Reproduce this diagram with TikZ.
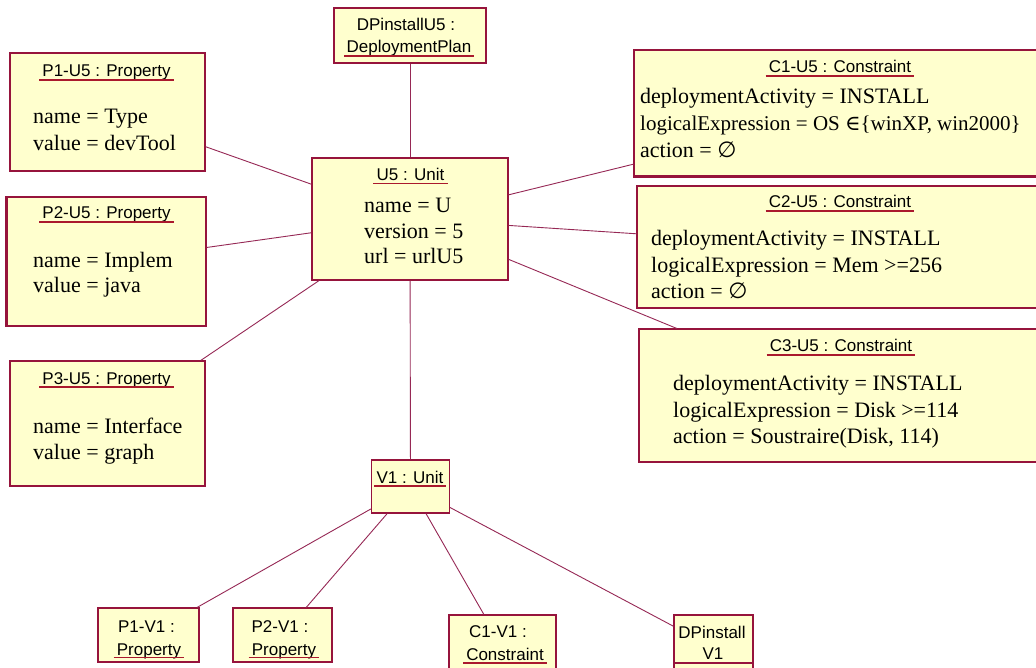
\documentclass[tikz,border=0pt]{standalone}
\usepackage{fontspec}
\setmainfont{Liberation Serif}
\newfontfamily\titlefont{Liberation Sans}
\newfontfamily\symfont{DejaVu Serif}
\newfontfamily\emptyfont{DejaVu Sans}
\usetikzlibrary{calc}
\definecolor{boxfill}{RGB}{255,255,206}
\definecolor{boxline}{RGB}{150,20,60}
\definecolor{linkcol}{RGB}{150,40,85}
\definecolor{ulcol}{RGB}{170,25,45}
\begin{document}
\begin{tikzpicture}[x=1pt,y=-1pt,
  box/.style={draw=boxline, fill=boxfill, line width=1.1pt, inner sep=0pt},
  link/.style={draw=linkcol, line width=0.9pt},
  ttl/.style={font=\titlefont\fontsize{17}{20}\selectfont, anchor=base, inner sep=0pt},
  attr/.style={font=\fontsize{22}{26}\selectfont, anchor=base west, inner sep=0pt},
  ul/.style={draw=ulcol, line width=1.1pt}]
\useasboundingbox (0,0) rectangle (1036,668);
\clip (0,0) rectangle (1036,668);
\fill[white] (0,0) rectangle (1036,668);

% boxes
\node[box, minimum width=152pt, minimum height=55pt] (dpu5) at (410,35.5) {};
\node[box, minimum width=195pt, minimum height=118pt] (p1u5) at (107.5,112) {};
\node[box, minimum width=199pt, minimum height=129pt] (p2u5) at (106.5,261.5) {};
\node[box, minimum width=195pt, minimum height=125pt] (p3u5) at (107.5,423.5) {};
\node[box, minimum width=196pt, minimum height=122pt] (u5) at (410,219) {};
\node[box, minimum width=418pt, minimum height=126pt] (c1u5) at (843,113) {};
\node[box, minimum width=406pt, minimum height=122pt] (c2u5) at (840,247) {};
\node[box, minimum width=402pt, minimum height=133pt] (c3u5) at (840,395.5) {};
\node[box, minimum width=78pt, minimum height=53pt] (v1) at (410.5,486.5) {};
\node[box, minimum width=101pt, minimum height=54pt] (p1v1) at (148.5,635) {};
\node[box, minimum width=99pt, minimum height=54pt] (p2v1) at (282.5,635) {};
\node[box, minimum width=107pt, minimum height=64pt] (c1v1) at (502.5,647) {};
\node[box, minimum width=79pt, minimum height=65pt] (dpv1) at (713.5,647.5) {};

% heavier borders
\draw[boxline, line width=2.4pt] (c1u5.south west) -- (c1u5.south east);
\draw[boxline, line width=2.4pt] (p2u5.north west) -- (p2u5.south west);
\coordinate (dpsepl) at (674,663);
\coordinate (dpsepr) at (753,663);
\draw[boxline, line width=1.1pt] (dpsepl) -- (dpsepr);

% connectors
\draw[link] (dpu5) -- (u5);
\draw[link] (p1u5) -- (u5);
\draw[link] (p2u5) -- (u5);
\draw[link] (p3u5) -- (u5);
\draw[link] (u5) -- (c1u5);
\draw[link] (u5) -- (c2u5);
\draw[link] (u5) -- (c3u5);
\draw[link] (u5) -- (v1);
\draw[link] (v1) -- (p1v1);
\draw[link] (v1) -- (p2v1);
\draw[link] (v1) -- (c1v1);
\draw[link] (v1) -- (dpv1);

% titles
\node[ttl] (dpu5a) at (406,31) {DPinstallU5 :};
\node[ttl] (dpu5b) at (409,53) {DeploymentPlan};
\draw[ul] ($(dpu5b.base west)+(-2,3)$) -- ($(dpu5b.base east)+(2,3)$);

\node[ttl] (p1u5t) at (106.5,77) {P1-U5 : Property};
\draw[ul] ($(p1u5t.base west)+(-3,3)$) -- ($(p1u5t.base east)+(3,3)$);
\node[ttl] (p2u5t) at (106.5,219) {P2-U5 : Property};
\draw[ul] ($(p2u5t.base west)+(-3,3)$) -- ($(p2u5t.base east)+(3,3)$);
\node[ttl] (p3u5t) at (106.5,384) {P3-U5 : Property};
\draw[ul] ($(p3u5t.base west)+(-3,3)$) -- ($(p3u5t.base east)+(3,3)$);
\node[ttl] (u5t) at (410.5,181) {U5 : Unit};
\draw[ul] ($(u5t.base west)+(-3,2.5)$) -- ($(u5t.base east)+(3,2.5)$);
\node[ttl] (v1t) at (410,483) {V1 : Unit};
\draw[ul] ($(v1t.base west)+(-2,3)$) -- ($(v1t.base east)+(2,3)$);

\node[ttl] (c1u5t) at (840,73) {C1-U5 : Constraint};
\draw[ul] ($(c1u5t.base west)+(-3,3)$) -- ($(c1u5t.base east)+(3,3)$);
\node[ttl] (c2u5t) at (840,208) {C2-U5 : Constraint};
\draw[ul] ($(c2u5t.base west)+(-3,3)$) -- ($(c2u5t.base east)+(3,3)$);
\node[ttl] (c3u5t) at (841,352) {C3-U5 : Constraint};
\draw[ul] ($(c3u5t.base west)+(-3,3)$) -- ($(c3u5t.base east)+(3,3)$);

\node[ttl] (p1v1a) at (146.5,632) {P1-V1 :};
\node[ttl] (p1v1b) at (149,655) {Property};
\draw[ul] ($(p1v1b.base west)+(-3,2.5)$) -- ($(p1v1b.base east)+(3,2.5)$);
\node[ttl] (p2v1a) at (280,632) {P2-V1 :};
\node[ttl] (p2v1b) at (284,655) {Property};
\draw[ul] ($(p2v1b.base west)+(-3,2.5)$) -- ($(p2v1b.base east)+(3,2.5)$);
\node[ttl] (c1v1a) at (498,637) {C1-V1 :};
\node[ttl] (c1v1b) at (505,660) {Constraint};
\draw[ul] ($(c1v1b.base west)+(-3,3)$) -- ($(c1v1b.base east)+(3,3)$);
\node[ttl] (dpv1a) at (712,638) {DPinstall};
\node[ttl] (dpv1b) at (713,659) {V1};

% attributes
\node[attr] (p1u5n) at (33,124) {name = Type};
\node[attr] (p1u5v) at (33,151) {value = devTool};
\node[attr] (p2u5n) at (33,268) {name = Implem};
\node[attr] (p2u5v) at (33,293) {value = java};
\node[attr] (p3u5n) at (33,433) {name = Interface};
\node[attr] (p3u5v) at (33,459) {value = graph};

\node[attr] (u5n) at (364,213) {name = U};
\node[attr] (u5v) at (364,238.5) {version = 5};
\node[attr] (u5u) at (364,264) {url = urlU5};

\node[attr] (c1u5a) at (640,104) {deploymentActivity = INSTALL};
\node[attr, font=\fontsize{21}{26}\selectfont] (c1u5b) at (640,131) {logicalExpression = OS {\symfont ∈}\{winXP, win2000\}};
\node[attr] (c1u5c) at (640,158) {action = {\emptyfont ∅}};

\node[attr] (c2u5a) at (651,246) {deploymentActivity = INSTALL};
\node[attr] (c2u5b) at (651,273) {logicalExpression = Mem >=256};
\node[attr] (c2u5c) at (651,299) {action = {\emptyfont ∅}};

\node[attr] (c3u5a) at (673,390) {deploymentActivity = INSTALL};
\node[attr] (c3u5b) at (673,417) {logicalExpression = Disk >=114};
\node[attr] (c3u5c) at (673,443) {action = Soustraire(Disk, 114)};
\end{tikzpicture}
\end{document}
